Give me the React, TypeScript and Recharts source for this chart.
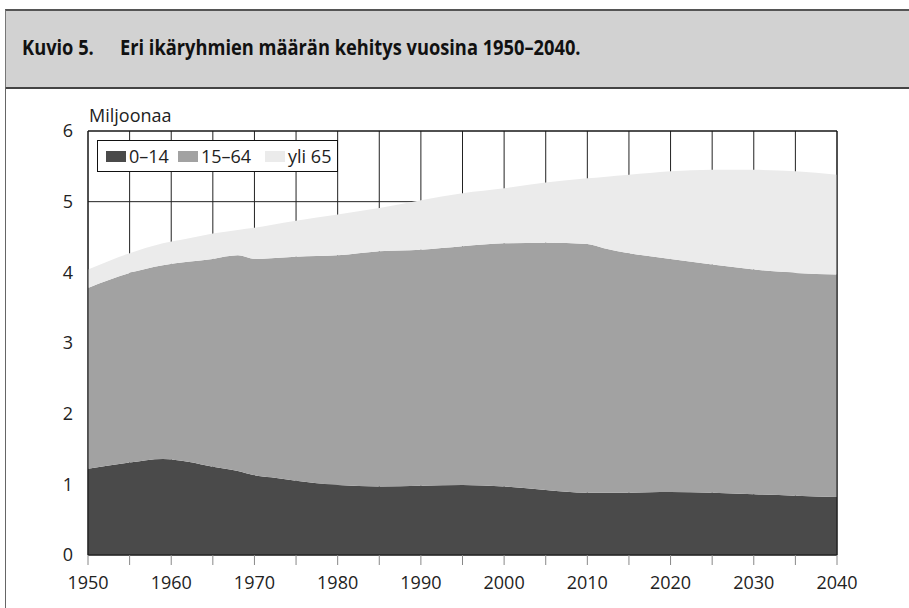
import React from "react";
import {
  AreaChart,
  Area,
  XAxis,
  YAxis,
  CartesianGrid,
  ReferenceLine,
} from "recharts";

// Population by age group, millions
const years = [
  1950, 1955, 1959, 1962, 1965, 1968, 1970, 1972, 1975, 1980, 1985, 1990,
  1995, 2000, 2005, 2010, 2012, 2015, 2020, 2025, 2030, 2035, 2040,
];
const age0to14 = [
  1.22, 1.31, 1.36, 1.32, 1.25, 1.19, 1.13, 1.1, 1.05, 0.99, 0.97, 0.98, 0.99,
  0.97, 0.92, 0.88, 0.88, 0.88, 0.89, 0.88, 0.86, 0.84, 0.82,
];
const age15to64 = [
  2.56, 2.68, 2.74, 2.83, 2.94, 3.05, 3.06, 3.1, 3.17, 3.25, 3.33, 3.34, 3.38,
  3.44, 3.5, 3.52, 3.46, 3.39, 3.3, 3.23, 3.18, 3.15, 3.15,
];
const age65plus = [
  0.26, 0.28, 0.31, 0.33, 0.36, 0.36, 0.44, 0.47, 0.51, 0.58, 0.61, 0.7, 0.75,
  0.78, 0.85, 0.93, 1.01, 1.11, 1.24, 1.34, 1.41, 1.44, 1.41,
];

const seriesNames = ["0–14", "15–64", "yli 65"];

const xTicks = [
  1950, 1955, 1960, 1965, 1970, 1975, 1980, 1985, 1990, 1995, 2000, 2005, 2010,
  2015, 2020, 2025, 2030, 2035, 2040,
];
const yTicks = [0, 1, 2, 3, 4, 5, 6];

const COLORS = ["#4a4a4a", "#a2a2a2", "#ebebeb"];
const FONT = "'Open Sans', sans-serif";

const data = years.map((year, i) => ({
  year,
  [seriesNames[0]]: age0to14[i],
  [seriesNames[1]]: age15to64[i],
  [seriesNames[2]]: age65plus[i],
}));

function LegendBox() {
  return (
    <div
      style={{
        position: "absolute",
        left: 97,
        top: 140,
        display: "flex",
        alignItems: "center",
        border: "1px solid #111",
        background: "#fff",
        width: 239,
        height: 30,
        fontSize: 18,
        color: "#222",
      }}
    >
      {seriesNames.map((name, i) => (
        <div
          key={name}
          style={{
            display: "flex",
            alignItems: "center",
            marginLeft: i === 0 ? 8 : i === 1 ? 9 : 14,
          }}
        >
          <span
            style={{
              display: "inline-block",
              width: 20,
              height: 11,
              background: COLORS[i],
              marginRight: 3,
            }}
          />
          <span>{name}</span>
        </div>
      ))}
    </div>
  );
}

export default function App() {
  return (
    <div
      style={{
        position: "absolute",
        left: 0,
        top: 0,
        width: 909,
        height: 608,
        background: "#fff",
        fontFamily: FONT,
        overflow: "hidden",
      }}
    >
      <div
        style={{
          position: "absolute",
          left: 5,
          top: 9,
          width: 904,
          height: 76,
          background: "#d2d2d2",
          borderTop: "2px solid #555",
          borderBottom: "2px solid #444",
          borderLeft: "1px solid #777",
        }}
      />
      <div
        style={{
          position: "absolute",
          left: 22,
          top: 33,
          fontSize: 21,
          fontWeight: 700,
          color: "#111",
          transform: "scaleX(0.87)",
          transformOrigin: "left top",
          whiteSpace: "nowrap",
        }}
      >
        Kuvio 5.
      </div>
      <div
        style={{
          position: "absolute",
          left: 120,
          top: 33,
          fontSize: 21,
          fontWeight: 700,
          color: "#111",
          transform: "scaleX(0.87)",
          transformOrigin: "left top",
          whiteSpace: "nowrap",
        }}
      >
        Eri ikäryhmien määrän kehitys vuosina 1950–2040.
      </div>
      <div
        style={{
          position: "absolute",
          left: 5,
          top: 87,
          width: 1,
          height: 521,
          background: "#666",
        }}
      />
      <div
        style={{
          position: "absolute",
          left: 89,
          top: 103,
          fontSize: 18,
          color: "#222",
        }}
      >
        Miljoonaa
      </div>
      <div style={{ position: "absolute", left: 0, top: 100 }}>
        <AreaChart
          width={909}
          height={508}
          data={data}
          margin={{ top: 31, right: 72, left: 28, bottom: 13 }}
        >
          <CartesianGrid stroke="#222" strokeWidth={1} />
          {seriesNames.map((name, i) => (
            <Area
              key={name}
              type="monotone"
              dataKey={name}
              stackId="1"
              stroke="none"
              fill={COLORS[i]}
              fillOpacity={1}
              isAnimationActive={false}
            />
          ))}
          <XAxis
            dataKey="year"
            type="number"
            domain={[1950, 2040]}
            ticks={xTicks}
            tickFormatter={(v: number) => (v % 10 === 0 ? String(v) : "")}
            interval={0}
            tickSize={10}
            tickMargin={11}
            tickLine={{ stroke: "#888" }}
            axisLine={{ stroke: "#111" }}
            tick={{ fontSize: 18, fill: "#222", fontFamily: FONT }}
            height={40}
          />
          <YAxis
            domain={[0, 6]}
            ticks={yTicks}
            interval={0}
            tickLine={false}
            tickSize={0}
            tickMargin={15}
            axisLine={{ stroke: "#111" }}
            tick={{ fontSize: 18, fill: "#222", fontFamily: FONT }}
            width={60}
          />
          <ReferenceLine x={2040} stroke="#111" />
          <ReferenceLine y={6} stroke="#111" />
        </AreaChart>
      </div>
      <LegendBox />
    </div>
  );
}
